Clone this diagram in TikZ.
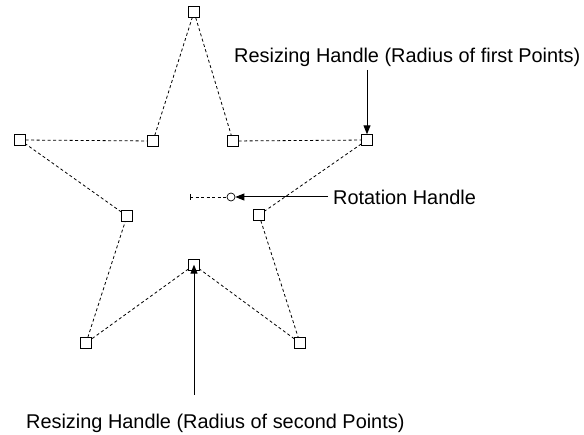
\documentclass[tikz,border=0pt]{standalone}
\usepackage{fontspec}
\setmainfont{Liberation Sans}
\usetikzlibrary{arrows.meta}
\begin{document}
\begin{tikzpicture}[x=1pt,y=-1pt,
  handle/.style={draw=black,line width=0.9pt,minimum size=10.5pt,inner sep=0pt,fill=white},
  edge/.style={dash pattern=on 3pt off 2.5pt,line width=0.8pt},
  pointer/.style={line width=1pt,-{Triangle[length=9pt,width=7pt]}},
  lbl/.style={font=\fontsize{19.9}{22}\selectfont,inner sep=0pt,anchor=west}]
\useasboundingbox (0,0) rectangle (584,435);
\node[handle] (t) at (194,12) {};
\node[handle] (iru) at (233,141) {};
\node[handle] (ro) at (367,140) {};
\node[handle] (irm) at (259,215) {};
\node[handle] (br) at (300,343) {};
\node[handle] (bi) at (194,265) {};
\node[handle] (bl) at (86,343) {};
\node[handle] (ilm) at (127,216) {};
\node[handle] (lo) at (20,140) {};
\node[handle] (ilu) at (153,141) {};
\draw[edge] (t) -- (iru) -- (ro) -- (irm) -- (br) -- (bi) -- (bl) -- (ilm) -- (lo) -- (ilu) -- (t);
\coordinate (c) at (190,197);
\node[draw=black,circle,minimum size=8pt,inner sep=0pt,line width=0.7pt] (rot) at (231,197) {};
\draw[line width=0.6pt] (190,194) -- (190,200);
\draw[edge] (c) -- (rot);
\node[lbl] (rl) at (333,197) {Rotation Handle};
\coordinate (rs) at (328,197);
\draw[pointer] (rs) -- (rot.east);
\node[lbl] (tl) at (234,57) {Resizing Handle (Radius of first Points)};
\coordinate (ts) at (367,70);
\draw[pointer] (ts) -- (ro.north);
\node[lbl] (bl2) at (26,423) {Resizing Handle (Radius of second Points)};
\coordinate (bs) at (194,395);
\draw[pointer] (bs) -- ([yshift=6pt]bi.south);
\end{tikzpicture}
\end{document}
